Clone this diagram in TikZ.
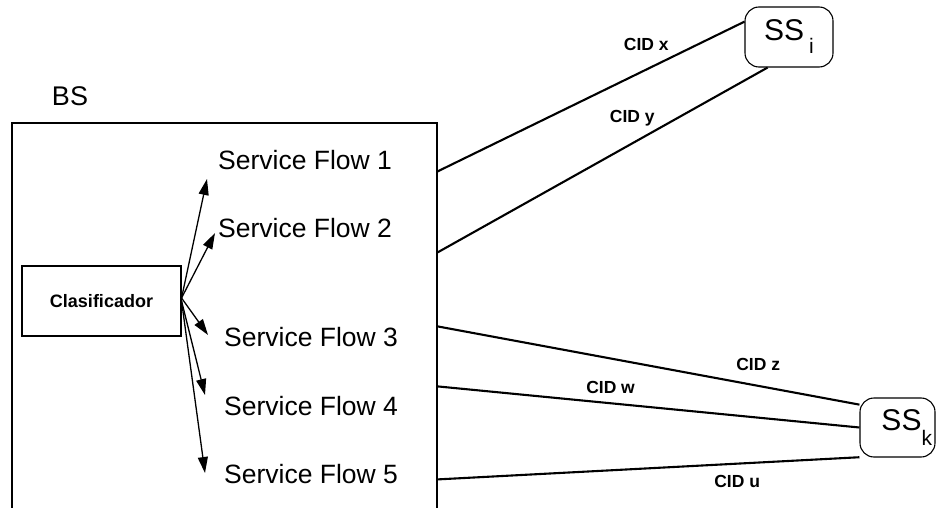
\documentclass[tikz,border=0pt]{standalone}
\usepackage{fontspec}
\setmainfont{Liberation Sans}
\usetikzlibrary{arrows.meta}
\tikzstyle{bsbox}=[draw, line width=1.2pt, minimum width=425pt,
    minimum height=400pt, inner sep=0pt]
\tikzstyle{clbox}=[draw, line width=1.1pt, minimum width=159pt,
    minimum height=70pt, font=\fontsize{18}{20}\selectfont\bfseries]
\tikzstyle{flow}=[anchor=base west, inner sep=0pt, font=\fontsize{26.5}{30}\selectfont]
\tikzstyle{ss}=[draw, rounded corners=14pt, line width=1.1pt, inner sep=3pt,
    minimum width=88pt, minimum height=60pt, font=\fontsize{30}{32}\selectfont]
\tikzstyle{cid}=[font=\fontsize{17.5}{20}\selectfont\bfseries]
\tikzstyle{link}=[line width=2.1pt]
\tikzstyle{flowarrow}=[line width=1.3pt, -{Triangle[length=16pt,width=10pt]}]

\begin{document}
\begin{tikzpicture}[x=1pt,y=-1pt]
  \useasboundingbox (0,0) rectangle (937,508);
  \clip (0,0) rectangle (937,508);
  \node at (224.5,323) (bs)[bsbox] {};
  \node[font=\fontsize{27}{30}\selectfont] at (70,96) (bslabel) {BS};
  \node at (101.5,301) (cl)[clbox] {Clasificador};

  \node at (218,169) (sf1)[flow] {Service Flow 1};
  \node at (218,237) (sf2)[flow] {Service Flow 2};
  \node at (224,346) (sf3)[flow] {Service Flow 3};
  \node at (224,415) (sf4)[flow] {Service Flow 4};
  \node at (224,483) (sf5)[flow] {Service Flow 5};

  \draw[flowarrow] ([yshift=3pt]cl.east) -- ([shift={(-11,10)}]sf1.base west);
  \draw[flowarrow] ([yshift=3pt]cl.east) -- ([shift={(-3,-4)}]sf2.base west);
  \draw[flowarrow] ([yshift=3pt]cl.east) -- ([shift={(-16,-11)}]sf3.base west);
  \draw[flowarrow] (cl.east) -- ([shift={(-19,-20)}]sf4.base west);
  \draw[flowarrow] (cl.east) -- ([shift={(-19,-10)}]sf5.base west);

  \node at (789,37) (ssi)[ss] {SS\hspace{5pt}\raisebox{-13pt}{\fontsize{21}{21}\selectfont i}};
  \node at (897.5,427.5) (ssk)[ss, minimum width=75pt, minimum height=59pt,
    text width=69pt, align=right] {SS\raisebox{-15pt}{\fontsize{21}{21}\selectfont k}};

  \draw[link] ([shift={(0,49)}]bs.north east) -- node[cid, pos=0.68, yshift=25pt] {CID x} (ssi.161);
  \draw[link] ([shift={(0,130)}]bs.north east) -- node[cid, pos=0.59, yshift=25pt] {CID y} (ssi.235);
  \draw[link] ([shift={(0,204)}]bs.north east) -- node[cid, pos=0.76, yshift=21pt] {CID z} (ssk.149);
  \draw[link] ([shift={(0,264)}]bs.north east) -- node[cid, pos=0.41, yshift=16pt] {CID w} (ssk.west);
  \draw[link] ([shift={(0,357)}]bs.north east) -- node[cid, pos=0.71, yshift=-18pt] {CID u} (ssk.218);
\end{tikzpicture}
\end{document}
